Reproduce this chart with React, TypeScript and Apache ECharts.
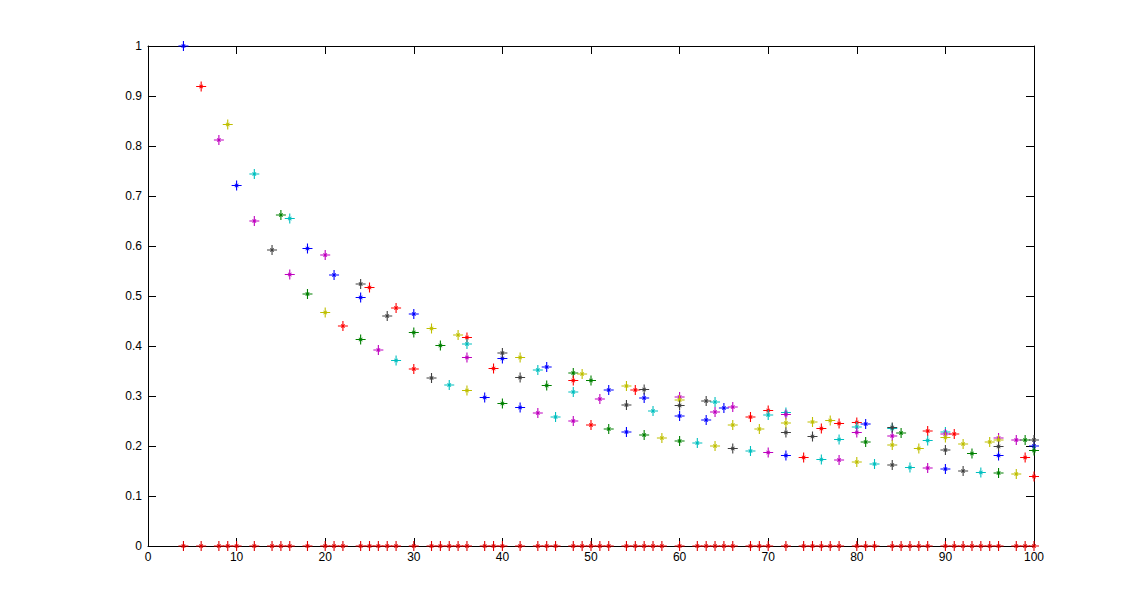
import React, { useEffect, useRef } from "react";
import * as echarts from "echarts";

// x positions of the zero row (composite numbers 4..100)
const zeroX = [4, 6, 8, 9, 10, 12, 14, 15, 16, 18, 20, 21, 22, 24, 25, 26, 27, 28, 30, 32, 33, 34, 35, 36, 38, 39, 40, 42, 44, 45, 46, 48, 49, 50, 51, 52, 54, 55, 56, 57, 58, 60, 62, 63, 64, 65, 66, 68, 69, 70, 72, 74, 75, 76, 77, 78, 80, 81, 82, 84, 85, 86, 87, 88, 90, 91, 92, 93, 94, 95, 96, 98, 99, 100];

const blueData = [[4, 1.0], [10, 0.721], [18, 0.595], [21, 0.542], [24, 0.497], [30, 0.464], [38, 0.297], [40, 0.375], [42, 0.277], [45, 0.358], [52, 0.312], [54, 0.228], [56, 0.296], [60, 0.26], [63, 0.252], [65, 0.276], [72, 0.181], [81, 0.244], [90, 0.154], [96, 0.181], [100, 0.2]];
const greenData = [[15, 0.662], [18, 0.504], [24, 0.413], [30, 0.427], [33, 0.401], [40, 0.285], [45, 0.321], [48, 0.346], [50, 0.331], [52, 0.234], [56, 0.222], [60, 0.21], [81, 0.208], [85, 0.226], [93, 0.185], [96, 0.146], [99, 0.212], [100, 0.191]];
const redData = [[6, 0.919], [22, 0.44], [25, 0.517], [28, 0.476], [30, 0.354], [36, 0.417], [39, 0.355], [48, 0.331], [50, 0.242], [55, 0.312], [68, 0.258], [70, 0.271], [74, 0.177], [76, 0.235], [78, 0.245], [80, 0.247], [88, 0.23], [91, 0.224], [99, 0.177], [100, 0.139]];
const cyanData = [[12, 0.744], [16, 0.655], [28, 0.371], [34, 0.322], [36, 0.404], [44, 0.352], [46, 0.258], [48, 0.308], [57, 0.27], [62, 0.206], [64, 0.288], [68, 0.19], [70, 0.262], [72, 0.267], [76, 0.173], [78, 0.213], [80, 0.238], [82, 0.164], [84, 0.235], [86, 0.157], [88, 0.211], [90, 0.228], [94, 0.147]];
const magentaData = [[8, 0.812], [12, 0.65], [16, 0.543], [20, 0.582], [26, 0.392], [36, 0.377], [44, 0.266], [48, 0.25], [51, 0.294], [60, 0.298], [64, 0.268], [66, 0.278], [70, 0.187], [72, 0.263], [78, 0.172], [80, 0.227], [84, 0.22], [88, 0.156], [90, 0.224], [96, 0.216], [98, 0.212]];
const yellowData = [[9, 0.843], [20, 0.467], [32, 0.435], [35, 0.422], [36, 0.311], [42, 0.377], [49, 0.344], [54, 0.32], [58, 0.216], [60, 0.292], [64, 0.2], [66, 0.242], [69, 0.234], [72, 0.246], [75, 0.248], [77, 0.251], [80, 0.168], [84, 0.202], [87, 0.195], [90, 0.217], [92, 0.204], [95, 0.208], [96, 0.212], [98, 0.144]];
const blackData = [[14, 0.592], [24, 0.524], [27, 0.46], [32, 0.336], [40, 0.386], [42, 0.337], [54, 0.282], [56, 0.313], [60, 0.281], [63, 0.29], [66, 0.195], [72, 0.227], [75, 0.219], [84, 0.237], [84, 0.162], [90, 0.192], [92, 0.15], [96, 0.199], [100, 0.212]];

const xTicks = [0, 10, 20, 30, 40, 50, 60, 70, 80, 90, 100];
const yTicks = [0, 0.1, 0.2, 0.3, 0.4, 0.5, 0.6, 0.7, 0.8, 0.9, 1];

const STAR =
  "path://M4.45 0H5.55V10H4.45Z M0 4.45H10V5.55H0Z M2.9 3.5L3.5 2.9L7.1 6.5L6.5 7.1Z M6.5 2.9L7.1 3.5L3.5 7.1L2.9 6.5Z";

const seriesDefs = [
  { name: "zero", color: "#e00000", data: zeroX.map((x) => [x, 0]) },
  { name: "blue", color: "#0000ff", data: blueData },
  { name: "green", color: "#008000", data: greenData },
  { name: "red", color: "#ff0000", data: redData },
  { name: "cyan", color: "#00bfbf", data: cyanData },
  { name: "magenta", color: "#bf00bf", data: magentaData },
  { name: "yellow", color: "#bfbf00", data: yellowData },
  { name: "black", color: "#404040", data: blackData },
];

export default function App() {
  const ref = useRef<HTMLDivElement>(null);
  useEffect(() => {
    if (!ref.current) return;
    const chart = echarts.init(ref.current, null, { renderer: "svg" });
    const axisLine = { show: true, onZero: false, lineStyle: { color: "#000", width: 1 } };
    const tickStyle = { show: true, inside: true, length: 8, lineStyle: { color: "#000", width: 1 } };
    const labelStyle = { color: "#000", fontSize: 12, fontFamily: "Liberation Sans, Arial, sans-serif" };
    chart.setOption({
      animation: false,
      backgroundColor: "#ffffff",
      grid: { left: 148, right: 107, top: 46, bottom: 69, containLabel: false },
      xAxis: [
        {
          type: "value",
          min: 0,
          max: 100,
          interval: 10,
          position: "bottom",
          axisLine,
          axisTick: tickStyle,
          splitLine: { show: false },
          axisLabel: { ...labelStyle, margin: 5, formatter: (v: number) => (xTicks.includes(v) ? String(v) : "") },
        },
        {
          type: "value",
          min: 0,
          max: 100,
          interval: 10,
          position: "top",
          axisLine,
          axisTick: tickStyle,
          splitLine: { show: false },
          axisLabel: { show: false },
        },
      ],
      yAxis: [
        {
          type: "value",
          min: 0,
          max: 1,
          interval: 0.1,
          position: "left",
          axisLine,
          axisTick: tickStyle,
          splitLine: { show: false },
          axisLabel: {
            ...labelStyle,
            margin: 6,
            formatter: (v: number) => {
              const t = yTicks.find((y) => Math.abs(y - v) < 1e-6);
              return t === undefined ? "" : String(t);
            },
          },
        },
        {
          type: "value",
          min: 0,
          max: 1,
          interval: 0.1,
          position: "right",
          axisLine,
          axisTick: tickStyle,
          splitLine: { show: false },
          axisLabel: { show: false },
        },
      ],
      series: seriesDefs.map((s) => ({
        name: s.name,
        type: "scatter",
        xAxisIndex: 0,
        yAxisIndex: 0,
        data: s.data,
        symbol: STAR,
        symbolSize: 10,
        itemStyle: { color: s.color, opacity: 1 },
        emphasis: { disabled: true },
        clip: false,
      })),
    });
    return () => chart.dispose();
  }, []);
  return (
    <div
      ref={ref}
      style={{ position: "fixed", left: 0, top: 0, width: 1141, height: 615, background: "#fff" }}
    />
  );
}
